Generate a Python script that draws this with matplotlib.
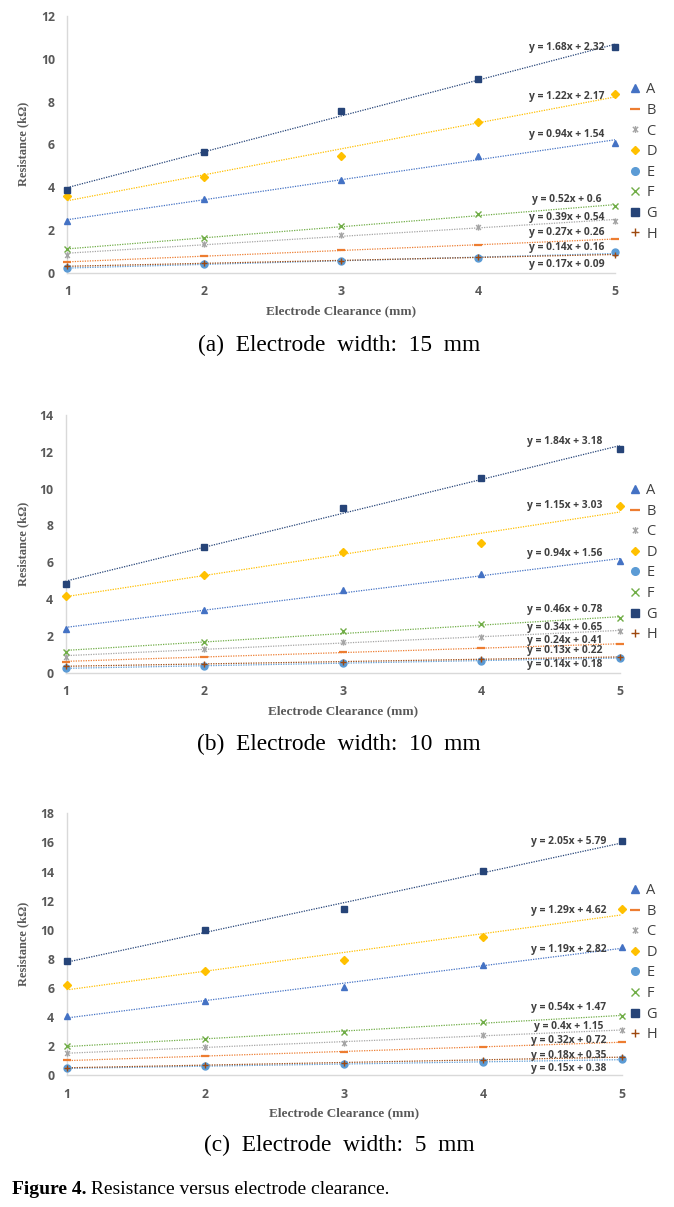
import numpy as np
import matplotlib
matplotlib.use("Agg")
import matplotlib.pyplot as plt
from matplotlib.path import Path

# ---------------- data ----------------
x = [1, 2, 3, 4, 5]
series = ['A', 'B', 'C', 'D', 'E', 'F', 'G', 'H']

a_A = [2.43, 3.43, 4.32, 5.47, 6.08]
a_B = [0.49, 0.78, 1.06, 1.31, 1.56]
a_C = [0.84, 1.36, 1.75, 2.12, 2.43]
a_D = [3.59, 4.49, 5.44, 7.06, 8.37]
a_E = [0.23, 0.41, 0.53, 0.67, 0.95]
a_F = [1.09, 1.62, 2.18, 2.73, 3.12]
a_G = [3.87, 5.63, 7.56, 9.04, 10.54]
a_H = [0.30, 0.44, 0.57, 0.72, 0.85]

b_A = [2.37, 3.39, 4.49, 5.34, 6.07]
b_B = [0.60, 0.85, 1.12, 1.36, 1.54]
b_C = [0.87, 1.29, 1.69, 1.96, 2.25]
b_D = [4.18, 5.32, 6.54, 7.04, 9.07]
b_E = [0.26, 0.36, 0.51, 0.64, 0.82]
b_F = [1.14, 1.67, 2.25, 2.63, 2.95]
b_G = [4.80, 6.83, 8.95, 10.58, 12.13]
b_H = [0.35, 0.48, 0.60, 0.73, 0.86]

c_A = [4.09, 5.10, 6.06, 7.58, 8.83]
c_B = [1.05, 1.30, 1.60, 1.94, 2.31]
c_C = [1.55, 1.92, 2.22, 2.75, 3.13]
c_D = [6.18, 7.16, 7.92, 9.52, 11.44]
c_E = [0.50, 0.62, 0.75, 0.91, 1.10]
c_F = [2.01, 2.49, 2.95, 3.68, 4.09]
c_G = [7.85, 9.98, 11.42, 14.01, 16.07]
c_H = [0.53, 0.70, 0.86, 1.05, 1.27]

a_eq = ["y = 0.94x + 1.54", "y = 0.27x + 0.26", "y = 0.39x + 0.54", "y = 1.22x + 2.17",
        "y = 0.17x + 0.09", "y = 0.52x + 0.6", "y = 1.68x + 2.32", "y = 0.14x + 0.16"]
b_eq = ["y = 0.94x + 1.56", "y = 0.24x + 0.41", "y = 0.34x + 0.65", "y = 1.15x + 3.03",
        "y = 0.14x + 0.18", "y = 0.46x + 0.78", "y = 1.84x + 3.18", "y = 0.13x + 0.22"]
c_eq = ["y = 1.19x + 2.82", "y = 0.32x + 0.72", "y = 0.4x + 1.15", "y = 1.29x + 4.62",
        "y = 0.15x + 0.38", "y = 0.54x + 1.47", "y = 2.05x + 5.79", "y = 0.18x + 0.35"]

a_yticks = [0, 2, 4, 6, 8, 10, 12]
b_yticks = [0, 2, 4, 6, 8, 10, 12, 14]
c_yticks = [0, 2, 4, 6, 8, 10, 12, 14, 16, 18]

captions = ["(a)  Electrode  width:  15  mm",
            "(b)  Electrode  width:  10  mm",
            "(c)  Electrode  width:  5  mm"]
xlabel = "Electrode Clearance (mm)"
ylabel = "Resistance (k\u03a9)"
fig_bold = "Figure 4."
fig_rest = " Resistance versus electrode clearance."

# ---------------- layout / style ----------------
W, H = 674, 1207
colors = ['#4472C4', '#ED7D31', '#A5A5A5', '#FFC000', '#5B9BD5', '#70AD47', '#264478', '#9E480E']
asterisk = Path([(-1, -1), (1, 1), (-1, 1), (1, -1), (0, -1.3), (0, 1.3)],
                [Path.MOVETO, Path.LINETO, Path.MOVETO, Path.LINETO, Path.MOVETO, Path.LINETO])
markers = ['^', '_', asterisk, 'D', 'o', 'x', 's', '+']
msizes = [5, 6, 4.5, 3.6, 5, 5, 5, 5]

# label y positions (layout, data units) per panel, series order A..H
a_lab_y = [6.48, 1.89, 2.59, 8.23, 0.39, 3.43, 10.54, 1.17]
b_lab_y = [6.46, 1.76, 2.44, 9.09, 0.43, 3.46, 12.55, 1.19]
c_lab_y = [8.65, 2.36, 3.32, 11.35, 0.50, 4.64, 16.07, 1.37]

panels = [
    dict(data=[a_A, a_B, a_C, a_D, a_E, a_F, a_G, a_H], eq=a_eq, laby=a_lab_y, yt=a_yticks,
         px=(67.3, 615.0, 16.0, 272.7), labx=4.65, leg_top=89.3, cap_y=345),
    dict(data=[b_A, b_B, b_C, b_D, b_E, b_F, b_G, b_H], eq=b_eq, laby=b_lab_y, yt=b_yticks,
         px=(65.7, 620.0, 415.0, 672.7), labx=4.60, leg_top=490.0, cap_y=744),
    dict(data=[c_A, c_B, c_C, c_D, c_E, c_F, c_G, c_H], eq=c_eq, laby=c_lab_y, yt=c_yticks,
         px=(66.7, 621.7, 813.3, 1075.3), labx=4.62, leg_top=890.0, cap_y=1145),
]

fig = plt.figure(figsize=(W / 100, H / 100), dpi=100)
sans = ['Open Sans', 'DejaVu Sans']
serif = ['Liberation Serif', 'DejaVu Serif']
tickcol = '#595959'

for pi, p in enumerate(panels):
    l, r, t, b = p['px']
    ax = fig.add_axes([l / W, 1 - b / H, (r - l) / W, (b - t) / H])
    ax.set_xlim(1, 5)
    ax.set_ylim(0, p['yt'][-1])
    for s in ['top', 'right']:
        ax.spines[s].set_visible(False)
    for s in ['left', 'bottom']:
        ax.spines[s].set_color('#D9D9D9')
        ax.spines[s].set_linewidth(1.0)
    ax.set_xticks(x)
    ax.set_yticks(p['yt'])
    ax.tick_params(length=0, labelsize=8.8, labelcolor=tickcol)
    ax.tick_params(axis='y', pad=9)
    ax.tick_params(axis='x', pad=9)
    for lab in ax.get_xticklabels() + ax.get_yticklabels():
        lab.set_fontfamily(sans)
        lab.set_fontweight('bold')
    xs = np.array(x, dtype=float)
    handles = []
    for i, ys in enumerate(p['data']):
        k, c0 = np.polyfit(xs, ys, 1)
        ax.plot(xs[[0, -1]], k * xs[[0, -1]] + c0, linestyle=(0, (1, 1)), lw=0.9,
                color=colors[i], clip_on=False, zorder=2)
        mew = 1.6 if markers[i] == '_' else 1.0
        h, = ax.plot(xs, ys, linestyle='none', marker=markers[i], ms=msizes[i],
                     color=colors[i], mec=colors[i], mew=mew, clip_on=False, zorder=3,
                     label=series[i])
        handles.append(h)
        ax.text(p['labx'], p['laby'][i], p['eq'][i], ha='center', va='center',
                fontsize=7.4, fontweight='bold', color='#404040', family=sans, zorder=4)
    ax.set_xlabel(xlabel, family=serif, fontweight='bold', fontsize=9.5, color=tickcol,
                  labelpad=5)
    ax.set_ylabel(ylabel, family=serif, fontweight='bold', fontsize=9, color=tickcol)
    ax.yaxis.set_label_coords(-(l - 29) / (r - l), 0.5)
    fig.legend(handles=handles, loc='upper left', frameon=False,
               bbox_to_anchor=(631 / W, 1 - (p['leg_top'] - 7) / H),
               prop=dict(family=sans, size=10.5), labelcolor='#404040',
               handlelength=0.6, handletextpad=0.45, labelspacing=0.385,
               borderaxespad=0, borderpad=0, markerscale=1.1)
    fig.text(339 / W, 1 - p['cap_y'] / H, captions[pi], family=serif,
             fontsize=16.8, ha='center', va='center', color='black')

t1 = fig.text(12 / W, 1 - 1190 / H, fig_bold, family=serif, fontweight='bold',
              fontsize=14, ha='left', va='center', color='black')
fig.canvas.draw()
bb = t1.get_window_extent(fig.canvas.get_renderer())
fig.text(bb.x1 / W, 1 - 1190 / H, fig_rest, family=serif, fontsize=14,
         ha='left', va='center', color='black')

fig.savefig('out.png', dpi=100)
